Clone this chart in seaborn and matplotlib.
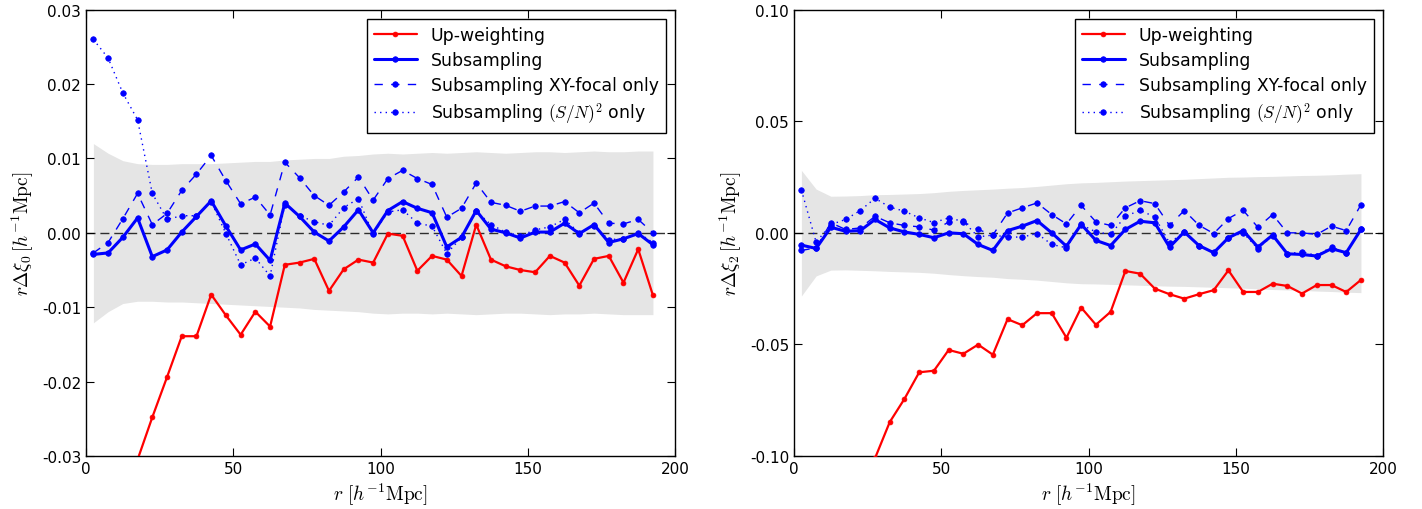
import numpy as np
import pandas as pd
import matplotlib
matplotlib.use("Agg")
import matplotlib.pyplot as plt
import seaborn as sns

# separation bins (bin centres, h^-1 Mpc)
r = np.arange(2.5, 195, 5.0)

# ---- monopole, r*Delta xi_0 ----
up0 = [-0.048, -0.043, -0.037, -0.0305, -0.0248, -0.0194, -0.0139, -0.0139, -0.0083, -0.0111,
       -0.0137, -0.0106, -0.0126, -0.0043, -0.0040, -0.0035, -0.0078, -0.0049, -0.0036, -0.0040,
       -0.0001, -0.0004, -0.0051, -0.0031, -0.0036, -0.0058, 0.0011, -0.0036, -0.0045, -0.0050,
       -0.0053, -0.0031, -0.0040, -0.0071, -0.0035, -0.0031, -0.0067, -0.0022, -0.0084]
sub0 = [-0.0029, -0.0027, -0.0006, 0.0020, -0.0032, -0.0023, 0.0001, 0.0022, 0.0043, 0.0009,
        -0.0023, -0.0015, -0.0037, 0.0040, 0.0022, 0.0001, -0.0011, 0.0008, 0.0031, 0.0000,
        0.0030, 0.0042, 0.0033, 0.0027, -0.0019, -0.0006, 0.0030, 0.0005, 0.0000, -0.0007,
        0.0001, 0.0001, 0.0013, -0.0001, 0.0011, -0.0013, -0.0008, -0.0001, -0.0016]
xy0 = [-0.0027, -0.0013, 0.0019, 0.0053, 0.0011, 0.0026, 0.0057, 0.0079, 0.0104, 0.0070,
       0.0039, 0.0048, 0.0024, 0.0095, 0.0074, 0.0050, 0.0037, 0.0055, 0.0075, 0.0044,
       0.0073, 0.0084, 0.0073, 0.0065, 0.0021, 0.0033, 0.0067, 0.0041, 0.0037, 0.0029,
       0.0036, 0.0036, 0.0042, 0.0027, 0.0040, 0.0013, 0.0012, 0.0018, 0.0000]
sn0 = [0.0260, 0.0235, 0.0188, 0.0152, 0.0053, 0.0018, 0.0023, 0.0023, 0.0042, -0.0001,
       -0.0043, -0.0034, -0.0058, 0.0038, 0.0023, 0.0015, 0.0010, 0.0034, 0.0046, -0.0002,
       0.0028, 0.0031, 0.0013, 0.0009, -0.0028, -0.0006, 0.0029, 0.0011, 0.0001, -0.0004,
       0.0004, 0.0008, 0.0018, 0.0000, 0.0009, -0.0009, -0.0008, 0.0000, -0.0013]
band0_hi = [0.0120, 0.0107, 0.0097, 0.0093, 0.0092, 0.0092, 0.0093, 0.0093, 0.0093, 0.0094,
            0.0095, 0.0096, 0.0096, 0.0098, 0.0099, 0.0100, 0.0100, 0.0103, 0.0104, 0.0106,
            0.0107, 0.0106, 0.0107, 0.0108, 0.0107, 0.0108, 0.0109, 0.0108, 0.0107, 0.0108,
            0.0109, 0.0109, 0.0108, 0.0109, 0.0110, 0.0109, 0.0109, 0.0110, 0.0110]
band0_lo = [-0.0121, -0.0106, -0.0095, -0.0092, -0.0092, -0.0093, -0.0093, -0.0094, -0.0095, -0.0096,
            -0.0097, -0.0098, -0.0099, -0.0100, -0.0101, -0.0103, -0.0104, -0.0105, -0.0106, -0.0108,
            -0.0109, -0.0108, -0.0108, -0.0109, -0.0108, -0.0109, -0.0110, -0.0109, -0.0108, -0.0108,
            -0.0109, -0.0110, -0.0109, -0.0109, -0.0108, -0.0109, -0.0110, -0.0110, -0.0110]

# ---- quadrupole, r*Delta xi_2 ----
up2 = [-0.160, -0.148, -0.135, -0.123, -0.112, -0.101, -0.0848, -0.0744, -0.0625, -0.0618,
       -0.0525, -0.0542, -0.0501, -0.0546, -0.0387, -0.0414, -0.0360, -0.0360, -0.0470, -0.0335,
       -0.0412, -0.0354, -0.0171, -0.0183, -0.0250, -0.0275, -0.0295, -0.0275, -0.0257, -0.0168,
       -0.0265, -0.0265, -0.0228, -0.0238, -0.0272, -0.0234, -0.0234, -0.0265, -0.0211]
sub2 = [-0.0055, -0.0070, 0.0025, 0.0007, 0.0010, 0.0060, 0.0022, 0.0004, -0.0007, -0.0022,
        0.0000, -0.0004, -0.0052, -0.0079, 0.0010, 0.0030, 0.0055, 0.0000, -0.0060, 0.0038,
        -0.0034, -0.0057, 0.0015, 0.0052, 0.0045, -0.0064, 0.0004, -0.0057, -0.0089, -0.0022,
        0.0010, -0.0064, -0.0010, -0.0094, -0.0097, -0.0104, -0.0071, -0.0089, 0.0015]
xy2 = [-0.0079, -0.0067, 0.0045, 0.0015, 0.0022, 0.0074, 0.0045, 0.0033, 0.0027, 0.0012,
       0.0048, 0.0049, 0.0015, -0.0010, 0.0089, 0.0112, 0.0134, 0.0082, 0.0040, 0.0123,
       0.0049, 0.0033, 0.0112, 0.0144, 0.0131, 0.0033, 0.0100, 0.0034, -0.0003, 0.0064,
       0.0101, 0.0025, 0.0082, 0.0000, 0.0000, -0.0007, 0.0030, 0.0010, 0.0126]
sn2 = [0.0192, -0.0042, 0.0037, 0.0060, 0.0100, 0.0155, 0.0115, 0.0097, 0.0067, 0.0046,
       0.0067, 0.0051, -0.0018, -0.0010, -0.0019, -0.0019, -0.0003, -0.0052, -0.0067, 0.0037,
       0.0004, -0.0007, 0.0074, 0.0101, 0.0071, -0.0045, 0.0004, -0.0057, -0.0086, -0.0022,
       0.0000, -0.0071, -0.0012, -0.0094, -0.0085, -0.0102, -0.0063, -0.0089, 0.0015]
band2_hi = [0.0280, 0.0196, 0.0164, 0.0165, 0.0167, 0.0171, 0.0172, 0.0174, 0.0176, 0.0180,
            0.0186, 0.0190, 0.0193, 0.0196, 0.0200, 0.0203, 0.0208, 0.0214, 0.0220, 0.0224,
            0.0226, 0.0229, 0.0232, 0.0234, 0.0236, 0.0238, 0.0240, 0.0243, 0.0246, 0.0249,
            0.0250, 0.0252, 0.0253, 0.0255, 0.0257, 0.0258, 0.0260, 0.0263, 0.0265]
band2_lo = [-0.0283, -0.0193, -0.0167, -0.0166, -0.0168, -0.0170, -0.0173, -0.0175, -0.0177, -0.0181,
            -0.0187, -0.0192, -0.0196, -0.0199, -0.0205, -0.0208, -0.0212, -0.0218, -0.0224, -0.0228,
            -0.0229, -0.0231, -0.0233, -0.0235, -0.0237, -0.0239, -0.0240, -0.0242, -0.0244, -0.0246,
            -0.0248, -0.0251, -0.0254, -0.0256, -0.0258, -0.0261, -0.0263, -0.0266, -0.0268]

labels = ['Up-weighting', 'Subsampling', 'Subsampling XY-focal only',
          r'Subsampling $(S/N)^2$ only']

sns.set_style("ticks")
plt.rcParams.update({
    'font.family': ['DejaVu Sans'],
    'mathtext.fontset': 'cm',
    'font.size': 11,
    'text.color': 'k',
    'axes.labelcolor': 'k',
    'axes.edgecolor': 'k',
    'axes.linewidth': 1.0,
    'xtick.direction': 'in',
    'ytick.direction': 'in',
    'xtick.top': True,
    'ytick.right': True,
    'xtick.major.size': 6,
    'ytick.major.size': 6,
    'xtick.color': 'k',
    'ytick.color': 'k',
    'xtick.labelsize': 11,
    'ytick.labelsize': 11,
})

fig = plt.figure(figsize=(14.22, 5.10), dpi=100)
ax0 = fig.add_axes([0.0605, 0.104, 0.4142, 0.875])
ax1 = fig.add_axes([0.5584, 0.104, 0.4142, 0.875])

styles = [
    dict(color='r', lw=1.6, linestyle='-', ms=3.5),
    dict(color='b', lw=2.2, linestyle='-', ms=4),
    dict(color='b', lw=1.0, linestyle=(0, (6, 6)), ms=4),
    dict(color='b', lw=1.0, linestyle=(0, (1, 3)), ms=4),
]


def panel(ax, series, lo, hi, ylim, yticks, ylabel):
    ax.fill_between(r, lo, hi, color='#e5e5e5', lw=0, zorder=0)
    ax.axhline(0, color='k', lw=1, linestyle=(0, (6.5, 3.5)), zorder=1, alpha=0.8)
    handles = []
    for vals, st, lab in zip(series, styles, labels):
        df = pd.DataFrame({'r': r, 'v': vals})
        sns.lineplot(data=df, x='r', y='v', ax=ax, errorbar=None, sort=False,
                     color=st['color'], lw=st['lw'], linestyle=st['linestyle'],
                     marker='o', markersize=st['ms'], markeredgecolor=st['color'],
                     markeredgewidth=0.5, zorder=3)
        handles.append(ax.lines[-1])
    ax.set_xlim(0, 200)
    ax.set_ylim(*ylim)
    ax.set_xticks([0, 50, 100, 150, 200])
    ax.set_yticks(yticks)
    ax.yaxis.set_major_formatter(matplotlib.ticker.FormatStrFormatter('%.2f'))
    ax.set_xlabel(r'$r\ [h^{-1}{\rm Mpc}]$', fontsize=14)
    ax.set_ylabel(ylabel, fontsize=14, labelpad=4)
    leg = ax.legend(handles, labels, loc='upper right', fontsize=12.4, handlelength=2.5,
                    fancybox=False, framealpha=1, edgecolor='k', borderaxespad=0.55,
                    labelspacing=0.4)
    leg.get_frame().set_linewidth(1.0)


panel(ax0, [up0, sub0, xy0, sn0], band0_lo, band0_hi, (-0.03, 0.03),
      [-0.03, -0.02, -0.01, 0.0, 0.01, 0.02, 0.03], r'$r\Delta\xi_0\,[h^{-1}{\rm Mpc}]$')
panel(ax1, [up2, sub2, xy2, sn2], band2_lo, band2_hi, (-0.1, 0.1),
      [-0.10, -0.05, 0.0, 0.05, 0.10], r'$r\Delta\xi_2\,[h^{-1}{\rm Mpc}]$')

fig.savefig('out.png', dpi=100)
